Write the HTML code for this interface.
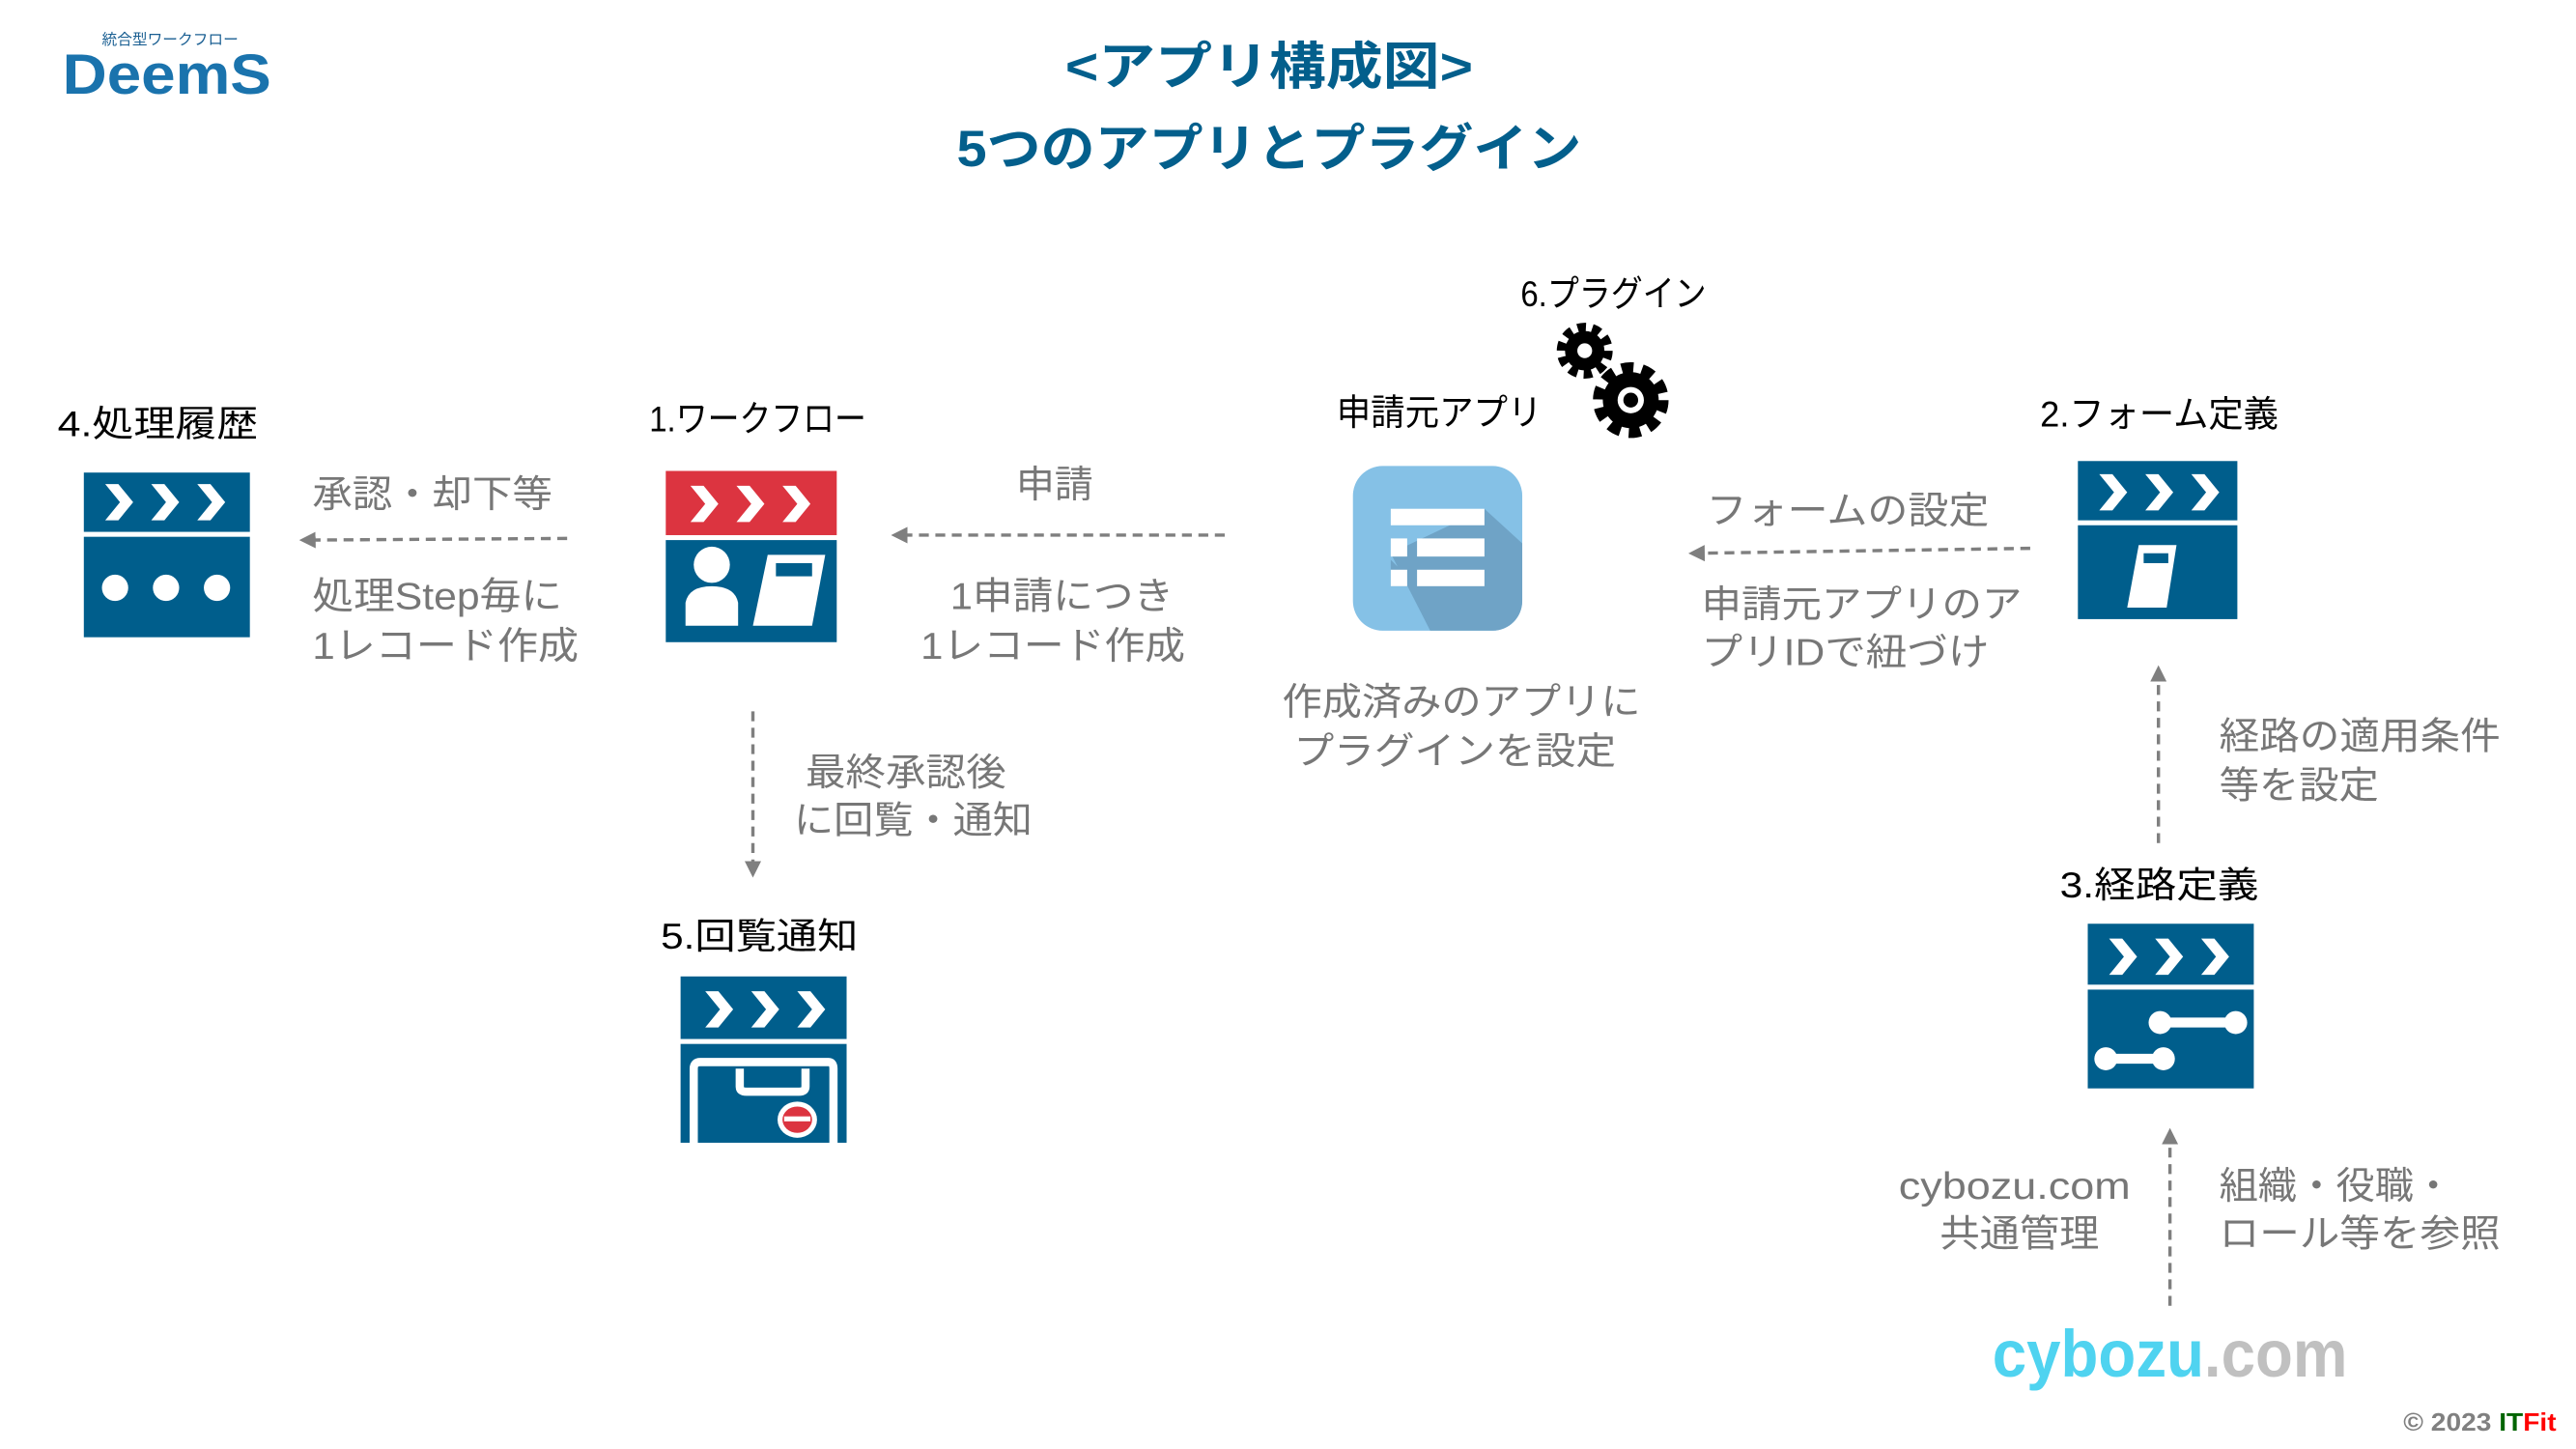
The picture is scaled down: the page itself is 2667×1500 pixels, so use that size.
<!DOCTYPE html>
<html><head><meta charset="utf-8"><style>
html,body{margin:0;padding:0;background:#fff;}
svg{display:block;}
text{font-family:"Liberation Sans","Noto Sans CJK JP",sans-serif;}
.lb{font-size:22px;fill:#000;}
.g{font-size:23px;fill:#777;}
</style></head><body>
<svg width="2667" height="1500" viewBox="0 0 1567 880" preserveAspectRatio="none" xmlns="http://www.w3.org/2000/svg">
<defs>
<g id="chev"><path d="M0 0 L8 0 L17 11 L8 22 L0 22 L9 11 Z" fill="#fff"/></g>
<g id="chevs"><use href="#chev" x="13" y="7"/><use href="#chev" x="41" y="7"/><use href="#chev" x="69" y="7"/></g>
<marker id="ah" markerWidth="10" markerHeight="10" refX="5" refY="5" orient="auto" markerUnits="userSpaceOnUse"><path d="M0 0 L10 5 L0 10 Z" fill="#7f7f7f"/></marker>
</defs>

<!-- logo -->
<text x="62" y="27" font-size="9" fill="#1a5f92" textLength="83" lengthAdjust="spacingAndGlyphs">統合型ワークフロー</text>
<text x="38" y="57" font-size="34" font-weight="bold" fill="#1a73ad" textLength="127" lengthAdjust="spacingAndGlyphs">DeemS</text>

<!-- title -->
<text x="648" y="51" font-size="31" font-weight="bold" fill="#035f8c" textLength="248" lengthAdjust="spacingAndGlyphs">&lt;アプリ構成図&gt;</text>
<text x="582" y="101" font-size="31" font-weight="bold" fill="#035f8c" textLength="380" lengthAdjust="spacingAndGlyphs">5つのアプリとプラグイン</text>

<!-- 4 処理履歴 -->
<text class="lb" x="35" y="265" textLength="122" lengthAdjust="spacingAndGlyphs">4.処理履歴</text>
<g transform="translate(51,287)">
<rect width="101" height="36" fill="#005e8c"/><use href="#chevs"/>
<rect y="39" width="101" height="61" fill="#005e8c"/>
<circle cx="19" cy="70" r="8" fill="#fff"/><circle cx="50" cy="70" r="8" fill="#fff"/><circle cx="81" cy="70" r="8" fill="#fff"/>
</g>

<!-- 1 ワークフロー -->
<text class="lb" x="395" y="262" textLength="132" lengthAdjust="spacingAndGlyphs">1.ワークフロー</text>
<g transform="translate(405,286)">
<rect width="104" height="39" fill="#dc3440"/><use href="#chevs" transform="translate(2,2)"/>
<rect y="42" width="104" height="62" fill="#005e8c"/>
<circle cx="28" cy="57" r="11" fill="#fff"/>
<path d="M12 94 L12 80 Q14 70 28 70 Q42 70 44 80 L44 94 Z" fill="#fff"/>
<path d="M62 51 L97 51 L89 94 L53 94 Z" fill="#fff"/>
<rect x="67" y="56" width="22" height="8" fill="#005e8c"/>
</g>

<!-- 5 回覧通知 -->
<text class="lb" x="402" y="576" textLength="120" lengthAdjust="spacingAndGlyphs">5.回覧通知</text>
<g transform="translate(414,593)">
<rect width="101" height="38" fill="#005e8c"/><use href="#chevs" transform="translate(2,2)"/>
<rect y="41" width="101" height="60" fill="#005e8c"/>
<path d="M8 101 L8 56 Q8 52 12 52 L90 52 Q93 52 93 56 L93 101" fill="none" stroke="#fff" stroke-width="5"/>
<path d="M36 56 L36 67 Q36 70 40 70 L72 70 Q76 70 76 67 L76 56" fill="none" stroke="#fff" stroke-width="5"/>
<ellipse cx="71" cy="87" rx="12" ry="11" fill="#fff"/>
<ellipse cx="71" cy="87" rx="9" ry="8" fill="#dc3440"/>
<rect x="63" y="85" width="16" height="3" fill="#fff"/>
</g>

<!-- app -->
<text class="lb" x="813" y="258" textLength="125" lengthAdjust="spacingAndGlyphs">申請元アプリ</text>
<g>
<clipPath id="ac"><rect x="823" y="283" width="103" height="100" rx="18"/></clipPath>
<rect x="823" y="283" width="103" height="100" rx="18" fill="#85c1e6"/>
<path d="M846 336 L903 309 L926 330 L926 383 L870 383 Z" fill="#6fa3c6" clip-path="url(#ac)"/>
<path d="M862 356 L846 356 L846 340 Z" fill="#6fa3c6"/>
<rect x="846" y="309" width="57" height="10" fill="#fff"/>
<rect x="846" y="327" width="10" height="11" fill="#fff"/><rect x="862" y="327" width="41" height="11" fill="#fff"/>
<rect x="846" y="346" width="10" height="10" fill="#fff"/><rect x="862" y="346" width="41" height="10" fill="#fff"/>
</g>
<text class="g" x="780" y="434" textLength="218" lengthAdjust="spacingAndGlyphs">作成済みのアプリに</text>
<text class="g" x="787" y="464" textLength="196" lengthAdjust="spacingAndGlyphs">プラグインを設定</text>

<!-- plugin -->
<text class="lb" x="925" y="186" textLength="113" lengthAdjust="spacingAndGlyphs">6.プラグイン</text>
<g fill="#000">
<circle cx="964" cy="213" r="12"/>
<circle cx="964" cy="213" r="14" fill="none" stroke="#000" stroke-width="6" stroke-dasharray="5 3.8"/>
<circle cx="964" cy="213" r="4.5" fill="#fff"/>
<circle cx="992" cy="243" r="17"/>
<circle cx="992" cy="243" r="19" fill="none" stroke="#000" stroke-width="8" stroke-dasharray="7 5"/>
<circle cx="992" cy="243" r="8" fill="#fff"/>
<circle cx="992" cy="243" r="4.5" fill="#000"/>
</g>

<!-- 2 フォーム定義 -->
<text class="lb" x="1241" y="259" textLength="145" lengthAdjust="spacingAndGlyphs">2.フォーム定義</text>
<g transform="translate(1264,280)">
<rect width="97" height="36" fill="#005e8c"/><use href="#chevs" transform="translate(0,1)"/>
<rect y="39" width="97" height="57" fill="#005e8c"/>
<path d="M37 51 L60 51 L54 89 L30 89 Z" fill="#fff"/>
<rect x="40" y="56" width="15" height="6" fill="#005e8c"/>
</g>

<!-- 3 経路定義 -->
<text class="lb" x="1253" y="545" textLength="121" lengthAdjust="spacingAndGlyphs">3.経路定義</text>
<g transform="translate(1270,561)">
<rect width="101" height="37" fill="#005e8c"/><use href="#chevs" transform="translate(0,2)"/>
<rect y="40" width="101" height="60" fill="#005e8c"/>
<line x1="44" y1="60" x2="90" y2="60" stroke="#fff" stroke-width="6"/>
<circle cx="44" cy="60" r="7" fill="#fff"/><circle cx="90" cy="60" r="7" fill="#fff"/>
<line x1="11" y1="82" x2="46" y2="82" stroke="#fff" stroke-width="6"/>
<circle cx="11" cy="82" r="7" fill="#fff"/><circle cx="46" cy="82" r="7" fill="#fff"/>
</g>

<!-- cybozu -->
<text x="1212" y="836" font-size="40" font-weight="bold" fill="#4fd3f0" textLength="216" lengthAdjust="spacingAndGlyphs">cybozu<tspan fill="#c0c0c0">.com</tspan></text>

<!-- arrows -->
<g stroke="#7f7f7f" stroke-width="2" stroke-dasharray="6 4" fill="none">
<line x1="345" y1="327" x2="187" y2="328" marker-end="url(#ah)"/>
<line x1="745" y1="325" x2="547" y2="325" marker-end="url(#ah)"/>
<line x1="1235" y1="333" x2="1032" y2="336" marker-end="url(#ah)"/>
<line x1="458" y1="432" x2="458" y2="528" marker-end="url(#ah)"/>
<line x1="1313" y1="512" x2="1313" y2="409" marker-end="url(#ah)"/>
<line x1="1320" y1="793" x2="1320" y2="690" marker-end="url(#ah)"/>
</g>

<text class="g" x="190" y="308" textLength="146" lengthAdjust="spacingAndGlyphs">承認・却下等</text>
<text class="g" x="190" y="370" textLength="152" lengthAdjust="spacingAndGlyphs">処理Step毎に</text>
<text class="g" x="190" y="400" textLength="162" lengthAdjust="spacingAndGlyphs">1レコード作成</text>

<text class="g" x="618" y="302" textLength="47" lengthAdjust="spacingAndGlyphs">申請</text>
<text class="g" x="578" y="370" textLength="136" lengthAdjust="spacingAndGlyphs">1申請につき</text>
<text class="g" x="560" y="400" textLength="161" lengthAdjust="spacingAndGlyphs">1レコード作成</text>

<text class="g" x="1038" y="318" textLength="172" lengthAdjust="spacingAndGlyphs">フォームの設定</text>
<text class="g" x="1035" y="375" textLength="195" lengthAdjust="spacingAndGlyphs">申請元アプリのア</text>
<text class="g" x="1035" y="404" textLength="175" lengthAdjust="spacingAndGlyphs">プリIDで紐づけ</text>

<text class="g" x="490" y="477" textLength="122" lengthAdjust="spacingAndGlyphs">最終承認後</text>
<text class="g" x="483" y="506" textLength="145" lengthAdjust="spacingAndGlyphs">に回覧・通知</text>

<text class="g" x="1350" y="455" textLength="171" lengthAdjust="spacingAndGlyphs">経路の適用条件</text>
<text class="g" x="1350" y="485" textLength="97" lengthAdjust="spacingAndGlyphs">等を設定</text>

<text class="g" x="1155" y="728" textLength="141" lengthAdjust="spacingAndGlyphs">cybozu.com</text>
<text class="g" x="1180" y="757" textLength="97" lengthAdjust="spacingAndGlyphs">共通管理</text>
<text class="g" x="1350" y="728" textLength="142" lengthAdjust="spacingAndGlyphs">組織・役職・</text>
<text class="g" x="1350" y="757" textLength="171" lengthAdjust="spacingAndGlyphs">ロール等を参照</text>

<text x="1462" y="869" font-size="15" font-weight="bold" font-family="Liberation Serif,serif" fill="#808080" textLength="93" lengthAdjust="spacingAndGlyphs">© 2023 <tspan fill="#006400">IT</tspan><tspan fill="#ff0000">Fit</tspan></text>
</svg>
</body></html>
